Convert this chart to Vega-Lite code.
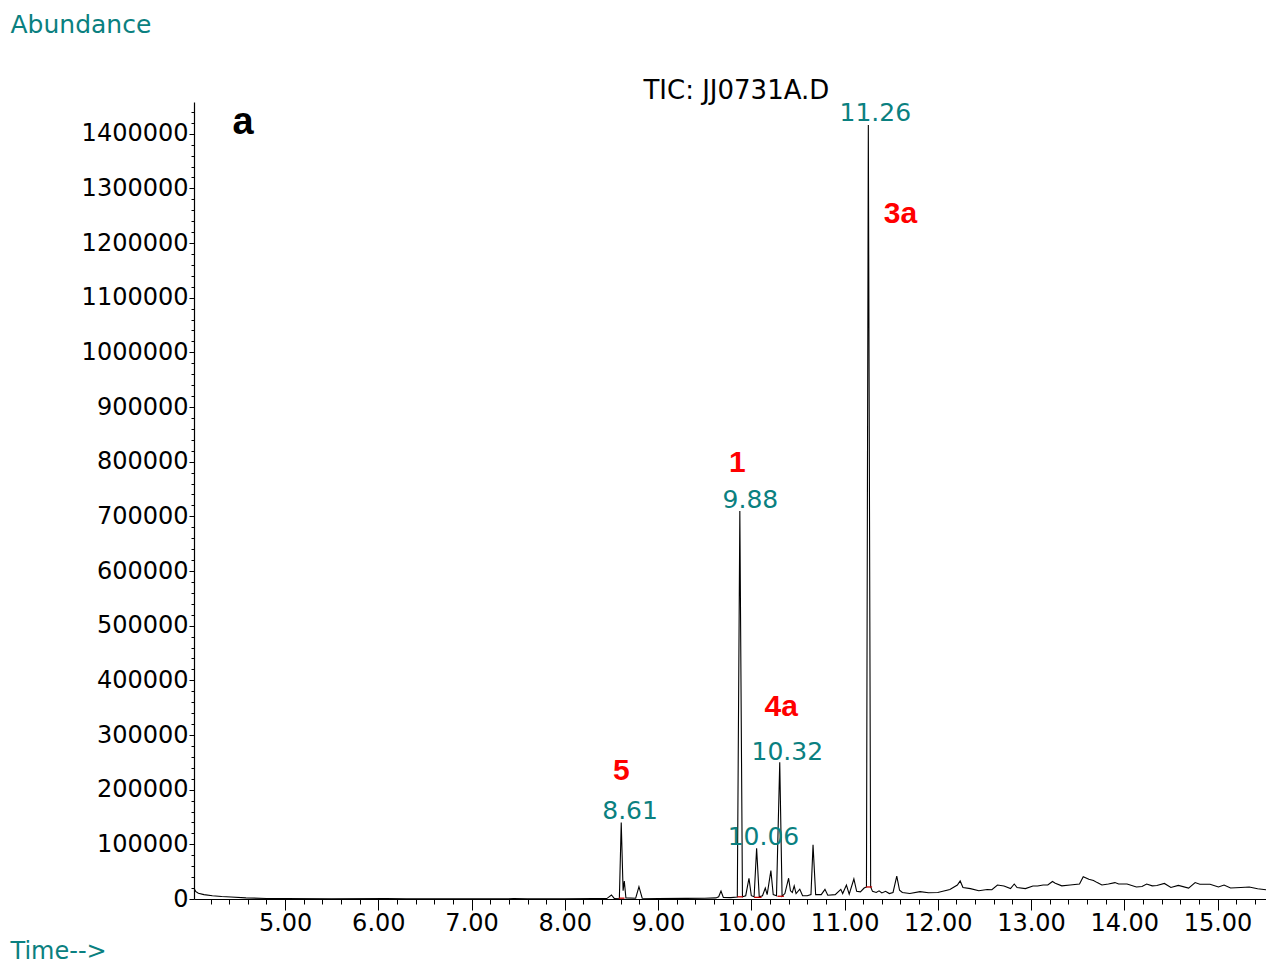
{
  "$schema": "https://vega.github.io/schema/vega-lite/v6.json",
  "width": 1072,
  "height": 797,
  "autosize": {"type": "none"},
  "padding": {"left": 194, "top": 102, "right": 0, "bottom": 67},
  "background": "white",
  "config": {"view": {"stroke": null}},
  "datasets": {
    "tic": [
      {"t": 4.023, "a": 19600}, {"t": 4.04, "a": 14000}, {"t": 4.07, "a": 10400}, {"t": 4.13, "a": 8000},
      {"t": 4.22, "a": 6000}, {"t": 4.32, "a": 4600}, {"t": 4.42, "a": 3600}, {"t": 4.58, "a": 2000},
      {"t": 4.8, "a": 1000}, {"t": 5.0, "a": 600}, {"t": 5.5, "a": 300}, {"t": 6.08, "a": 800},
      {"t": 6.3, "a": 300}, {"t": 7.0, "a": 300}, {"t": 7.45, "a": 600}, {"t": 7.6, "a": 300},
      {"t": 8.0, "a": 400}, {"t": 8.3, "a": 600}, {"t": 8.45, "a": 800}, {"t": 8.5, "a": 7300},
      {"t": 8.53, "a": 1000}, {"t": 8.585, "a": 1500}, {"t": 8.605, "a": 140000}, {"t": 8.625, "a": 15000},
      {"t": 8.638, "a": 33000}, {"t": 8.655, "a": 2000}, {"t": 8.76, "a": 1500}, {"t": 8.795, "a": 22500},
      {"t": 8.83, "a": 1500}, {"t": 9.0, "a": 1000}, {"t": 9.3, "a": 1200}, {"t": 9.5, "a": 1500},
      {"t": 9.62, "a": 2000}, {"t": 9.65, "a": 4000}, {"t": 9.675, "a": 14600}, {"t": 9.7, "a": 3000},
      {"t": 9.78, "a": 2500}, {"t": 9.85, "a": 3500}, {"t": 9.877, "a": 710000}, {"t": 9.905, "a": 4000},
      {"t": 9.94, "a": 6000}, {"t": 9.975, "a": 38000}, {"t": 10.0, "a": 6000}, {"t": 10.03, "a": 4000},
      {"t": 10.057, "a": 93000}, {"t": 10.085, "a": 4000}, {"t": 10.12, "a": 6000}, {"t": 10.15, "a": 20000},
      {"t": 10.17, "a": 8000}, {"t": 10.21, "a": 52000}, {"t": 10.235, "a": 8000}, {"t": 10.27, "a": 6000},
      {"t": 10.305, "a": 250000}, {"t": 10.33, "a": 5000}, {"t": 10.36, "a": 10000}, {"t": 10.4, "a": 38000},
      {"t": 10.42, "a": 15000}, {"t": 10.44, "a": 12000}, {"t": 10.46, "a": 24000}, {"t": 10.48, "a": 10000},
      {"t": 10.52, "a": 18000}, {"t": 10.55, "a": 6000}, {"t": 10.6, "a": 6000}, {"t": 10.64, "a": 8000},
      {"t": 10.662, "a": 99000}, {"t": 10.69, "a": 8000}, {"t": 10.75, "a": 8000}, {"t": 10.79, "a": 17700},
      {"t": 10.82, "a": 7000}, {"t": 10.9, "a": 8000}, {"t": 10.96, "a": 17700}, {"t": 10.98, "a": 10000},
      {"t": 11.02, "a": 25600}, {"t": 11.05, "a": 9000}, {"t": 11.1, "a": 36600}, {"t": 11.13, "a": 14000},
      {"t": 11.17, "a": 13000}, {"t": 11.21, "a": 20000}, {"t": 11.235, "a": 22000}, {"t": 11.255, "a": 1416000},
      {"t": 11.28, "a": 22000}, {"t": 11.3, "a": 14000}, {"t": 11.34, "a": 12000}, {"t": 11.37, "a": 15000},
      {"t": 11.4, "a": 11000}, {"t": 11.44, "a": 14000}, {"t": 11.48, "a": 10000}, {"t": 11.52, "a": 12000},
      {"t": 11.56, "a": 42000}, {"t": 11.59, "a": 16000}, {"t": 11.62, "a": 12000}, {"t": 11.7, "a": 10000},
      {"t": 11.81, "a": 13400}, {"t": 11.9, "a": 11500}, {"t": 12.0, "a": 12000}, {"t": 12.13, "a": 17500},
      {"t": 12.21, "a": 25600}, {"t": 12.24, "a": 33000}, {"t": 12.27, "a": 21000}, {"t": 12.35, "a": 19000},
      {"t": 12.44, "a": 15000}, {"t": 12.53, "a": 17500}, {"t": 12.58, "a": 17000}, {"t": 12.64, "a": 25600},
      {"t": 12.71, "a": 23800}, {"t": 12.78, "a": 19000}, {"t": 12.82, "a": 27400}, {"t": 12.85, "a": 21000},
      {"t": 12.94, "a": 19000}, {"t": 13.02, "a": 23800}, {"t": 13.07, "a": 23800}, {"t": 13.13, "a": 25600},
      {"t": 13.18, "a": 25600}, {"t": 13.23, "a": 32000}, {"t": 13.26, "a": 29000}, {"t": 13.33, "a": 24000},
      {"t": 13.42, "a": 25600}, {"t": 13.52, "a": 27400}, {"t": 13.56, "a": 40800}, {"t": 13.62, "a": 36000},
      {"t": 13.67, "a": 34000}, {"t": 13.71, "a": 30000}, {"t": 13.76, "a": 25600}, {"t": 13.83, "a": 27400},
      {"t": 13.9, "a": 30000}, {"t": 13.94, "a": 27400}, {"t": 14.03, "a": 27400}, {"t": 14.13, "a": 22000},
      {"t": 14.19, "a": 23000}, {"t": 14.24, "a": 27400}, {"t": 14.3, "a": 24000}, {"t": 14.35, "a": 24800},
      {"t": 14.43, "a": 28500}, {"t": 14.5, "a": 21000}, {"t": 14.58, "a": 24800}, {"t": 14.69, "a": 20000},
      {"t": 14.76, "a": 30000}, {"t": 14.81, "a": 27000}, {"t": 14.92, "a": 27000}, {"t": 15.01, "a": 22000},
      {"t": 15.07, "a": 25600}, {"t": 15.14, "a": 20000}, {"t": 15.25, "a": 21000}, {"t": 15.34, "a": 22000},
      {"t": 15.43, "a": 18700}, {"t": 15.52, "a": 17000}
    ],
    "baselines": [
      {"t": 8.58, "t2": 8.64, "a": 1500, "a2": 1500},
      {"t": 9.85, "t2": 9.91, "a": 4000, "a2": 4000},
      {"t": 10.03, "t2": 10.11, "a": 3000, "a2": 3000},
      {"t": 10.28, "t2": 10.35, "a": 5000, "a2": 5000},
      {"t": 11.23, "t2": 11.295, "a": 22000, "a2": 22000}
    ],
    "compounds": [
      {"t": 8.605, "a": 234000, "label": "5"},
      {"t": 9.85, "a": 798000, "label": "1"},
      {"t": 10.32, "a": 351000, "label": "4a"},
      {"t": 11.6, "a": 1253500, "label": "3a"}
    ],
    "peaks": [
      {"t": 8.7, "a": 161000, "label": "8.61"},
      {"t": 9.99, "a": 730000, "label": "9.88"},
      {"t": 10.386, "a": 269000, "label": "10.32"},
      {"t": 10.13, "a": 113500, "label": "10.06"},
      {"t": 11.33, "a": 1438000, "label": "11.26"}
    ],
    "panel": [
      {"t": 4.55, "a": 1420000, "label": "a"}
    ],
    "header": [
      {"t": 9.84, "a": 1478000, "label": "TIC: JJ0731A.D"}
    ]
  },
  "layer": [
    {
      "data": {"name": "tic"},
      "mark": {"type": "line", "color": "black", "strokeWidth": 1.1, "interpolate": "linear"},
      "encoding": {
        "x": {
          "field": "t", "type": "quantitative",
          "scale": {"domain": [4.023, 15.52], "nice": false, "zero": false},
          "axis": {
            "values": [4.2,4.4,4.6,4.8,5,5.2,5.4,5.6,5.8,6,6.2,6.4,6.6,6.8,7,7.2,7.4,7.6,7.8,8,8.2,8.4,8.6,8.8,9,9.2,9.4,9.6,9.8,10,10.2,10.4,10.6,10.8,11,11.2,11.4,11.6,11.8,12,12.2,12.4,12.6,12.8,13,13.2,13.4,13.6,13.8,14,14.2,14.4,14.6,14.8,15,15.2,15.4],
            "tickCount": 500,
            "labelExpr": "abs(datum.value - round(datum.value)) < 0.001 ? format(datum.value, '.2f') : ''",
            "tickSize": {"condition": {"test": "abs(datum.value - round(datum.value)) < 0.001", "value": 11}, "value": 5},
            "tickColor": "black", "tickWidth": 1,
            "domainColor": "black", "domainWidth": 1.2,
            "grid": false,
            "labelFont": "DejaVu Sans", "labelFontSize": 24, "labelColor": "black",
            "labelPadding": 1, "labelOverlap": false, "labelFlush": false,
            "title": "Time-->", "titleColor": "#0a8080", "titleFont": "DejaVu Sans", "titleFontSize": 24, "titleFontWeight": "normal",
            "titleAngle": 0, "titleAlign": "left", "titleBaseline": "middle", "titleX": -184, "titleY": 52
          }
        },
        "y": {
          "field": "a", "type": "quantitative",
          "scale": {"domain": [0, 1458000], "nice": false, "zero": true},
          "axis": {
            "values": [0,20000,40000,60000,80000,100000,120000,140000,160000,180000,200000,220000,240000,260000,280000,300000,320000,340000,360000,380000,400000,420000,440000,460000,480000,500000,520000,540000,560000,580000,600000,620000,640000,660000,680000,700000,720000,740000,760000,780000,800000,820000,840000,860000,880000,900000,920000,940000,960000,980000,1000000,1020000,1040000,1060000,1080000,1100000,1120000,1140000,1160000,1180000,1200000,1220000,1240000,1260000,1280000,1300000,1320000,1340000,1360000,1380000,1400000,1420000,1440000],
            "tickCount": 500,
            "labelExpr": "datum.value % 100000 === 0 ? format(datum.value, 'd') : ''",
            "tickSize": {"condition": {"test": "datum.value % 100000 === 0", "value": 5}, "value": 3},
            "tickColor": "black", "tickWidth": 1,
            "domainColor": "black", "domainWidth": 1.2,
            "grid": false,
            "labelFont": "DejaVu Sans", "labelFontSize": 24, "labelColor": "black",
            "labelPadding": 1, "labelOverlap": false, "labelFlush": false,
            "title": "Abundance", "titleColor": "#0a8080", "titleFont": "DejaVu Sans", "titleFontSize": 25, "titleFontWeight": "normal",
            "titleAngle": 0, "titleAlign": "left", "titleBaseline": "middle", "titleX": -184, "titleY": -78
          }
        }
      }
    },
    {
      "data": {"name": "baselines"},
      "mark": {"type": "rule", "color": "#c00000", "strokeWidth": 1.3},
      "encoding": {
        "x": {"field": "t", "type": "quantitative"},
        "x2": {"field": "t2"},
        "y": {"field": "a", "type": "quantitative"},
        "y2": {"field": "a2"}
      }
    },
    {
      "data": {"name": "compounds"},
      "mark": {"type": "text", "color": "#ff0000", "font": "Liberation Sans", "fontSize": 30, "fontWeight": "bold", "align": "center", "baseline": "middle"},
      "encoding": {
        "x": {"field": "t", "type": "quantitative"},
        "y": {"field": "a", "type": "quantitative"},
        "text": {"field": "label"}
      }
    },
    {
      "data": {"name": "peaks"},
      "mark": {"type": "text", "color": "#0a8080", "font": "DejaVu Sans", "fontSize": 25, "align": "center", "baseline": "middle"},
      "encoding": {
        "x": {"field": "t", "type": "quantitative"},
        "y": {"field": "a", "type": "quantitative"},
        "text": {"field": "label"}
      }
    },
    {
      "data": {"name": "panel"},
      "mark": {"type": "text", "color": "black", "font": "Liberation Sans", "fontSize": 38, "fontWeight": "bold", "align": "center", "baseline": "middle"},
      "encoding": {
        "x": {"field": "t", "type": "quantitative"},
        "y": {"field": "a", "type": "quantitative"},
        "text": {"field": "label"}
      }
    },
    {
      "data": {"name": "header"},
      "mark": {"type": "text", "color": "black", "font": "DejaVu Sans", "fontSize": 26, "align": "center", "baseline": "middle"},
      "encoding": {
        "x": {"field": "t", "type": "quantitative"},
        "y": {"field": "a", "type": "quantitative"},
        "text": {"field": "label"}
      }
    }
  ]
}
